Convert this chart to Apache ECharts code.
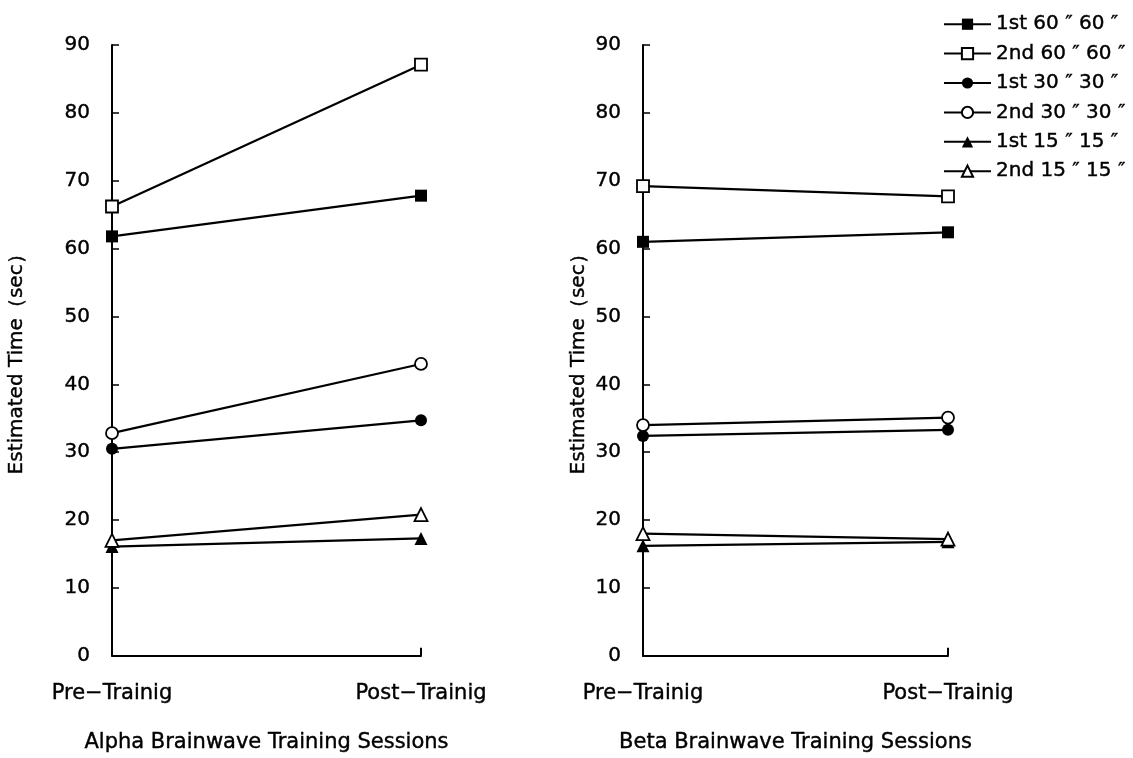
<!DOCTYPE html>
<html>
<head>
<meta charset="utf-8">
<script src="https://cdn.jsdelivr.net/npm/echarts@6/dist/echarts.min.js"></script>
<style>
  html, body { margin: 0; padding: 0; background: #fff; }
  #chart { width: 1133px; height: 758px; }
</style>
</head>
<body>
<div id="chart"></div>
<script>
// Session categories and tick range shared by both panels
const sessions = ['Pre\u2212Trainig', 'Post\u2212Trainig'];
const yTicks = { min: 0, max: 90, interval: 10 };
const yTitle = 'Estimated Time\uFF08sec\uFF09';

// Series names (condition + trial)
const names = [
  '1st 60 \u2033 60 \u2033',
  '2nd 60 \u2033 60 \u2033',
  '1st 30 \u2033 30 \u2033',
  '2nd 30 \u2033 30 \u2033',
  '1st 15 \u2033 15 \u2033',
  '2nd 15 \u2033 15 \u2033'
];

// Alpha brainwave training: estimated time (sec), [pre, post]
const alpha1st60 = [61.8, 67.8];
const alpha2nd60 = [66.2, 87.1];
const alpha1st30 = [30.5, 34.7];
const alpha2nd30 = [32.8, 43.0];
const alpha1st15 = [16.1, 17.3];
const alpha2nd15 = [17.0, 20.8];

// Beta brainwave training: estimated time (sec), [pre, post]
const beta1st60 = [61.0, 62.4];
const beta2nd60 = [69.2, 67.7];
const beta1st30 = [32.4, 33.3];
const beta2nd30 = [34.0, 35.1];
const beta1st15 = [16.2, 16.8];
const beta2nd15 = [18.0, 17.2];

const alphaSets = [alpha1st60, alpha2nd60, alpha1st30, alpha2nd30, alpha1st15, alpha2nd15];
const betaSets = [beta1st60, beta2nd60, beta1st30, beta2nd30, beta1st15, beta2nd15];

// marker shape / fill per series
const shapes = ['rect', 'rect', 'circle', 'circle', 'triangle', 'triangle'];
const filled = [true, false, true, false, true, false];
const sizes = [12, 12, 12, 12, 13, 13];

const FONT = '"DejaVu Sans", sans-serif';
// slightly heavier glyphs, like a dark print
const INK = { color: '#000', fontFamily: FONT, textBorderColor: '#000', textBorderWidth: 0.4 };

function makeSeries(sets, gridIdx) {
  return sets.map((d, i) => ({
    name: names[i],
    type: 'line',
    xAxisIndex: gridIdx,
    yAxisIndex: gridIdx,
    data: d,
    symbol: shapes[i],
    symbolSize: sizes[i],
    showAllSymbol: true,
    lineStyle: { color: '#000', width: 2.2 },
    itemStyle: {
      color: filled[i] ? '#000' : '#fff',
      borderColor: '#000',
      borderWidth: filled[i] ? 0 : 1.8
    },
    emphasis: { disabled: true },
    animation: false,
    z: 3
  }));
}

function xAxis(gridIdx, title) {
  return {
    type: 'category',
    gridIndex: gridIdx,
    data: sessions,
    boundaryGap: false,
    axisLine: { lineStyle: { color: '#000', width: 2 } },
    axisTick: { inside: true, length: 8, lineStyle: { color: '#000', width: 2 } },
    axisLabel: Object.assign({ fontSize: 21, margin: 27 }, INK),
    splitLine: { show: false },
    name: title,
    nameLocation: 'middle',
    nameGap: 76,
    nameTextStyle: Object.assign({ fontSize: 21 }, INK)
  };
}

function yAxis(gridIdx, gap) {
  return {
    type: 'value',
    gridIndex: gridIdx,
    min: yTicks.min,
    max: yTicks.max,
    interval: yTicks.interval,
    axisLine: { show: true, lineStyle: { color: '#000', width: 2 } },
    axisTick: { show: true, inside: true, length: 7, lineStyle: { color: '#000', width: 1.5 } },
    axisLabel: Object.assign({ fontSize: 20, margin: 22 }, INK),
    splitLine: { show: false },
    name: yTitle,
    nameLocation: 'middle',
    nameGap: gap,
    nameTextStyle: Object.assign({ fontSize: 20, padding: [0, 18, 0, 0] }, INK)
  };
}

const chart = echarts.init(document.getElementById('chart'), null, { renderer: 'canvas' });
chart.setOption({
  backgroundColor: '#fff',
  animation: false,
  grid: [
    { left: 112, top: 45, width: 309, height: 614 },
    { left: 643, top: 45, width: 305, height: 614 }
  ],
  legend: {
    data: names,
    orient: 'vertical',
    left: 938,
    top: 9,
    itemWidth: 47,
    itemHeight: 14,
    itemGap: 9,
    textStyle: Object.assign({ fontSize: 20, lineHeight: 20 }, INK),
    selectedMode: false
  },
  xAxis: [
    xAxis(0, 'Alpha Brainwave Training Sessions'),
    xAxis(1, 'Beta Brainwave Training Sessions')
  ],
  yAxis: [yAxis(0, 85), yAxis(1, 54)],
  series: makeSeries(alphaSets, 0).concat(makeSeries(betaSets, 1))
});
</script>
</body>
</html>
